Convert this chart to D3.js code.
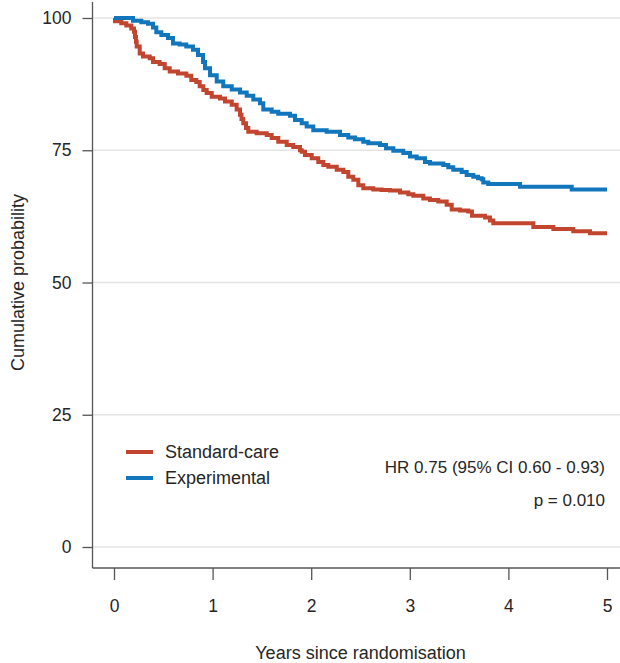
<!DOCTYPE html>
<html>
<head>
<meta charset="utf-8">
<script src="https://cdn.jsdelivr.net/npm/d3@7"></script>
<style>
  html, body { margin: 0; padding: 0; background: #fff; }
  svg { display: block; font-family: "Liberation Sans", Arial, sans-serif; }
</style>
</head>
<body>
<svg id="chart" width="620" height="663"></svg>
<script>
// Kaplan–Meier step data: event time (years) and cumulative probability (%)
const standardTimes = [0, 0.01, 0.074, 0.125, 0.175, 0.203, 0.213, 0.223, 0.230, 0.261, 0.294, 0.362, 0.396, 0.463, 0.514, 0.565, 0.649, 0.734, 0.784, 0.835, 0.869, 0.906, 0.940, 0.991, 1.075, 1.126, 1.194, 1.244, 1.278, 1.293, 1.311, 1.339, 1.362, 1.447, 1.549, 1.599, 1.666, 1.752, 1.818, 1.886, 1.904, 1.937, 2.005, 2.072, 2.123, 2.173, 2.259, 2.326, 2.376, 2.427, 2.478, 2.528, 2.630, 2.715, 2.799, 2.901, 2.985, 3.036, 3.137, 3.205, 3.289, 3.374, 3.425, 3.509, 3.593, 3.631, 3.763, 3.813, 3.847, 4.253, 4.456, 4.658, 4.828, 5.0];
const standardSurv = [100, 99.4, 99.0, 98.6, 98.0, 97.4, 96.4, 95.5, 94.6, 93.3, 92.7, 92.4, 91.7, 91.3, 90.5, 89.9, 89.5, 89.1, 88.3, 87.9, 87.1, 86.4, 85.8, 85.1, 84.8, 84.2, 83.6, 82.7, 81.7, 80.9, 80.1, 79.2, 78.5, 78.2, 77.9, 77.3, 76.6, 76.0, 75.6, 75.0, 74.7, 74.1, 73.5, 72.8, 72.2, 71.9, 71.3, 70.9, 70.0, 69.4, 68.4, 67.8, 67.6, 67.5, 67.4, 67.0, 66.7, 66.4, 65.9, 65.6, 65.3, 64.7, 63.8, 63.6, 63.4, 62.6, 62.3, 61.7, 61.2, 60.5, 60.1, 59.7, 59.3, 59.3];

const experimentalTimes = [0, 0.193, 0.277, 0.345, 0.396, 0.429, 0.480, 0.548, 0.598, 0.666, 0.733, 0.801, 0.852, 0.903, 0.923, 0.974, 1.042, 1.108, 1.194, 1.278, 1.346, 1.413, 1.481, 1.514, 1.599, 1.666, 1.785, 1.836, 1.904, 1.954, 2.021, 2.157, 2.292, 2.376, 2.444, 2.528, 2.579, 2.698, 2.759, 2.833, 2.934, 3.002, 3.070, 3.154, 3.205, 3.340, 3.390, 3.441, 3.526, 3.577, 3.644, 3.692, 3.729, 3.745, 3.796, 4.118, 4.642, 5.0];
const experimentalSurv = [100, 99.5, 99.2, 98.9, 98.2, 97.3, 96.8, 96.2, 95.2, 95.0, 94.6, 94.0, 93.0, 91.7, 90.5, 89.2, 88.0, 87.1, 86.5, 85.9, 85.3, 84.6, 83.9, 82.7, 82.3, 81.9, 81.5, 80.7, 80.1, 79.5, 78.8, 78.5, 77.9, 77.4, 77.1, 76.6, 76.3, 76.0, 75.4, 74.9, 74.5, 73.8, 73.5, 72.8, 72.5, 72.2, 71.8, 71.3, 70.9, 70.3, 70.0, 69.7, 69.5, 68.9, 68.6, 68.1, 67.6, 67.6];

const groupNames = ["Standard-care", "Experimental"];
const groupColors = ["#c1452f", "#1276bd"];
const xTicks = [0, 1, 2, 3, 4, 5];
const yTicks = [0, 25, 50, 75, 100];
const hrText = "HR 0.75 (95% CI 0.60 - 0.93)";
const pText = "p = 0.010";

const svg = d3.select("#chart");
const axisX = 92.5, axisY = 568;

const x = d3.scaleLinear().domain([0, 5]).range([114, 607]);
const y = d3.scaleLinear().domain([0, 100]).range([547, 18]);

// horizontal gridlines
svg.append("g").selectAll("line").data(yTicks).join("line")
  .attr("x1", axisX).attr("x2", 620)
  .attr("y1", d => y(d)).attr("y2", d => y(d))
  .attr("stroke", "#e4e4e4").attr("stroke-width", 1.3);

// y axis
const yAxis = svg.append("g").attr("transform", `translate(${axisX},0)`)
  .call(d3.axisLeft(y).tickValues(yTicks).tickFormat(d3.format("d")).tickSize(10).tickPadding(11).tickSizeOuter(0));
yAxis.select(".domain").remove();
svg.append("line").attr("x1", axisX).attr("x2", axisX).attr("y1", 2).attr("y2", axisY)
  .attr("stroke", "#555").attr("stroke-width", 1.3);

// x axis
const xAxis = svg.append("g").attr("transform", `translate(0,${axisY})`)
  .call(d3.axisBottom(x).tickValues(xTicks).tickFormat(d3.format("d")).tickSize(12).tickPadding(20).tickSizeOuter(0));
xAxis.select(".domain").remove();
svg.append("line").attr("x1", axisX).attr("x2", 620).attr("y1", axisY).attr("y2", axisY)
  .attr("stroke", "#555").attr("stroke-width", 1.3);

svg.selectAll(".tick line").attr("stroke", "#555").attr("stroke-width", 1.3);
svg.selectAll(".tick text").attr("fill", "#262626").style("font-size", "17.5px")
  .style("font-family", '"Liberation Sans", Arial, sans-serif');

// axis titles
svg.append("text").attr("x", (x(0) + x(5)) / 2).attr("y", 653).attr("dy", "0.35em")
  .attr("text-anchor", "middle").attr("fill", "#262626").style("font-size", "18px")
  .text("Years since randomisation");
svg.append("text").attr("transform", `translate(18,${(y(0) + y(100)) / 2}) rotate(-90)`)
  .attr("dy", "0.35em").attr("text-anchor", "middle").attr("fill", "#262626").style("font-size", "18px")
  .text("Cumulative probability");

// survival curves
const series = [
  { name: groupNames[0], color: groupColors[0], pts: standardTimes.map((t, i) => [t, standardSurv[i]]) },
  { name: groupNames[1], color: groupColors[1], pts: experimentalTimes.map((t, i) => [t, experimentalSurv[i]]) }
];
const line = d3.line().x(d => x(d[0])).y(d => y(d[1])).curve(d3.curveStepAfter);
svg.append("g").selectAll("path").data(series).join("path")
  .attr("d", d => line(d.pts))
  .attr("fill", "none").attr("stroke", d => d.color).attr("stroke-width", 4)
  .attr("stroke-linejoin", "miter");

// legend
const legend = svg.append("g").selectAll("g").data(series).join("g")
  .attr("transform", (d, i) => `translate(126,${452 + i * 26})`);
legend.append("line").attr("x1", 0).attr("x2", 27).attr("y1", 0).attr("y2", 0)
  .attr("stroke", d => d.color).attr("stroke-width", 4);
legend.append("text").attr("x", 39).attr("dy", "0.35em").attr("fill", "#262626")
  .style("font-size", "18px").text(d => d.name);

// hazard ratio annotation
svg.append("text").attr("x", 605).attr("y", 467).attr("dy", "0.35em").attr("text-anchor", "end")
  .attr("fill", "#262626").style("font-size", "17px").text(hrText);
svg.append("text").attr("x", 605).attr("y", 500).attr("dy", "0.35em").attr("text-anchor", "end")
  .attr("fill", "#262626").style("font-size", "17px").text(pText);
</script>
</body>
</html>
